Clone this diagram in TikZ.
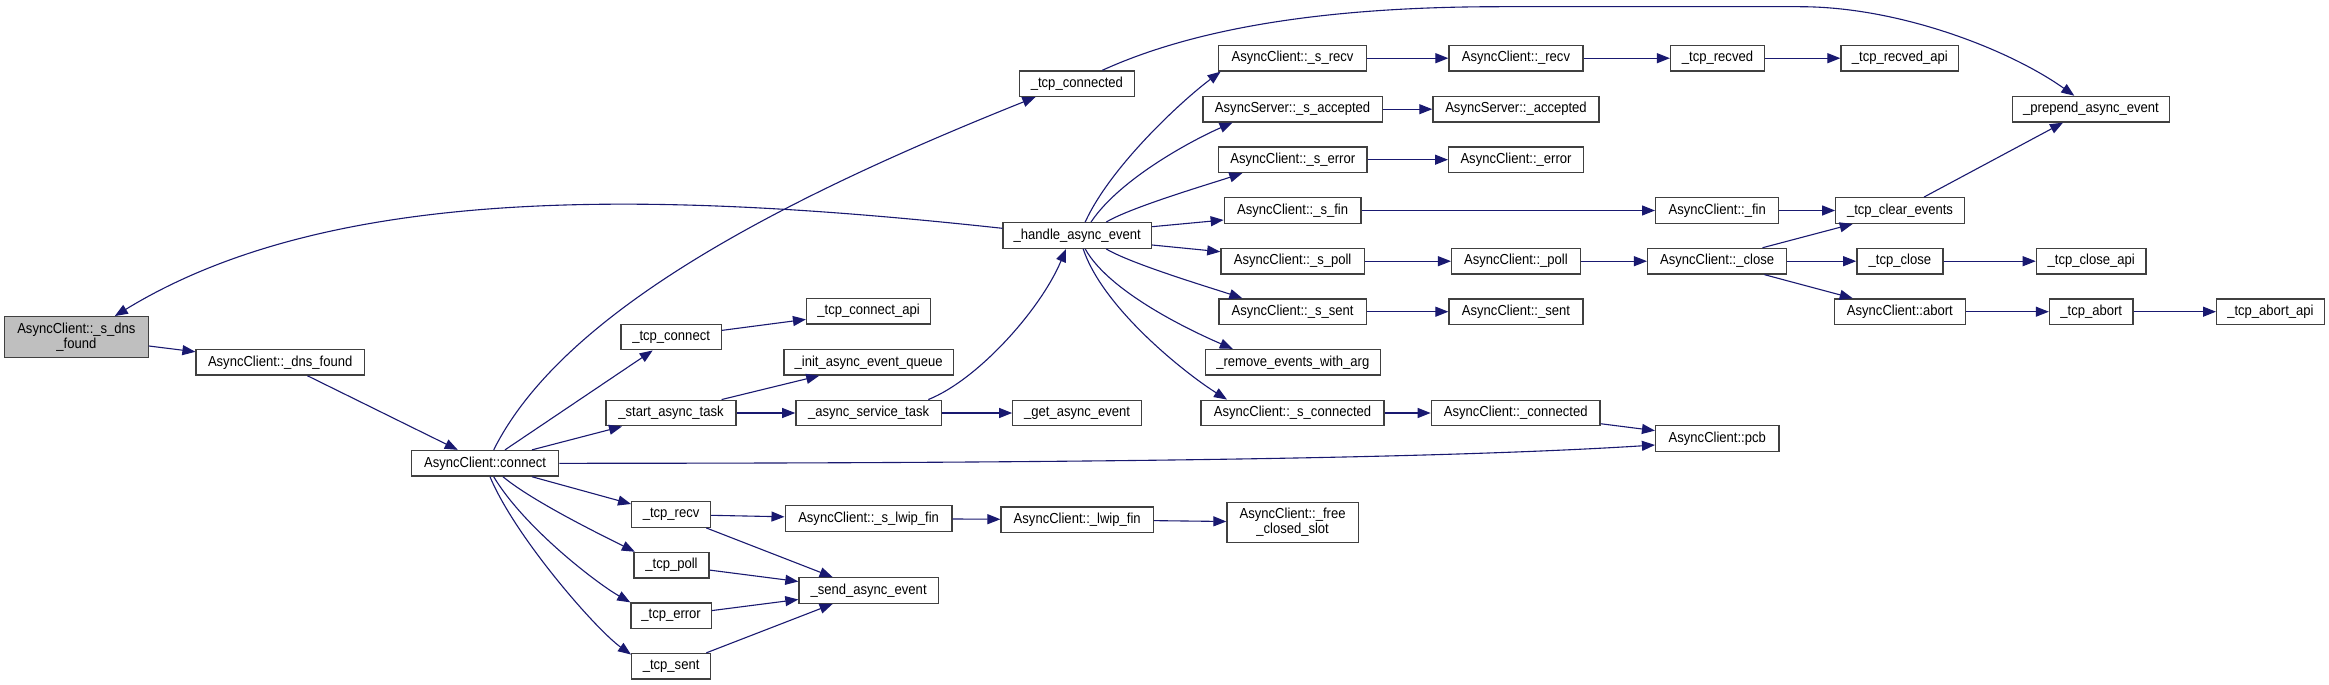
\documentclass[tikz,border=0pt]{standalone}
\usepackage{fontspec}
\setmainfont{Liberation Sans}[FakeStretch=0.9]
\usetikzlibrary{arrows.meta,calc}
\definecolor{navy}{HTML}{191970}
\definecolor{nodegray}{HTML}{BFBFBF}
\definecolor{bord}{HTML}{404040}
\tikzset{
  box/.style={draw=bord, line width=1.3pt, fill=white, minimum height=25.6pt, inner sep=0pt,
    font=\fontsize{14.5}{15}\selectfont, align=center},
  edge/.style={draw=navy, line width=1.1pt, -{Triangle[length=13pt,width=10pt]}}
}
\begin{document}
\begin{tikzpicture}[x=1pt,y=-1pt]
\fill[white] (0,0) rectangle (2329,685);
\useasboundingbox (0,0) rectangle (2329,685);
% nodes
\node[box, minimum width=143.5pt, minimum height=40.6pt, fill=nodegray] (sdns) at (76.4,337) {AsyncClient::\_s\_dns\\\_found};
\node[box, minimum width=168.3pt] (dnsf) at (280.2,362.3) {AsyncClient::\_dns\_found};
\node[box, minimum width=147.3pt] (conn) at (485,463.3) {AsyncClient::connect};
\node[box, minimum width=115.2pt] (tcpcd) at (1076.9,83.7) {\_tcp\_connected};
\node[box, minimum width=148.5pt] (handle) at (1077.2,235.5) {\_handle\_async\_event};
\node[box, minimum width=124pt] (tcpcapi) at (868.6,311.2) {\_tcp\_connect\_api};
\node[box, minimum width=100.2pt] (tcpc) at (671.1,337) {\_tcp\_connect};
\node[box, minimum width=169.1pt] (initq) at (868.6,362.3) {\_init\_async\_event\_queue};
\node[box, minimum width=130.1pt] (startt) at (671,413) {\_start\_async\_task};
\node[box, minimum width=145.5pt] (servt) at (868.6,413) {\_async\_service\_task};
\node[box, minimum width=128.6pt] (getev) at (1077.1,413) {\_get\_async\_event};
\node[box, minimum width=78.8pt] (tcprecv) at (671.1,514.5) {\_tcp\_recv};
\node[box, minimum width=166.9pt] (slwip) at (868.6,518.5) {AsyncClient::\_s\_lwip\_fin};
\node[box, minimum width=152.3pt] (lwip) at (1077.2,519.7) {AsyncClient::\_lwip\_fin};
\node[box, minimum width=75pt] (tcppoll) at (671.5,565.2) {\_tcp\_poll};
\node[box, minimum width=139.3pt] (sendev) at (868.6,590.5) {\_send\_async\_event};
\node[box, minimum width=80.4pt] (tcperr) at (671.1,615.8) {\_tcp\_error};
\node[box, minimum width=78.8pt] (tcpsent) at (671.1,666.3) {\_tcp\_sent};
\node[box, minimum width=147.7pt] (srecv) at (1292.5,58.2) {AsyncClient::\_s\_recv};
\node[box, minimum width=179.5pt] (sacc) at (1292.6,109.2) {AsyncServer::\_s\_accepted};
\node[box, minimum width=148.4pt] (serr) at (1292.8,159.7) {AsyncClient::\_s\_error};
\node[box, minimum width=136.6pt] (sfin) at (1292.6,210.5) {AsyncClient::\_s\_fin};
\node[box, minimum width=143.5pt] (spoll) at (1292.6,261.2) {AsyncClient::\_s\_poll};
\node[box, minimum width=147.3pt] (ssent) at (1292.6,311.7) {AsyncClient::\_s\_sent};
\node[box, minimum width=175.2pt] (remove) at (1292.8,362.3) {\_remove\_events\_with\_arg};
\node[box, minimum width=182.9pt] (sconn) at (1292.5,413) {AsyncClient::\_s\_connected};
\node[box, minimum width=131.2pt, minimum height=40pt] (freeslot) at (1292.6,522.3) {AsyncClient::\_free\\\_closed\_slot};
\node[box, minimum width=133.9pt] (recv) at (1516,58.2) {AsyncClient::\_recv};
\node[box, minimum width=166.1pt] (acc) at (1516,109.2) {AsyncServer::\_accepted};
\node[box, minimum width=134.7pt] (err) at (1516,159.7) {AsyncClient::\_error};
\node[box, minimum width=128.6pt] (poll) at (1515.9,261.2) {AsyncClient::\_poll};
\node[box, minimum width=134pt] (sent) at (1516,311.7) {AsyncClient::\_sent};
\node[box, minimum width=168.8pt] (connd) at (1515.7,413) {AsyncClient::\_connected};
\node[box, minimum width=93.9pt] (tcprecved) at (1717.5,58.2) {\_tcp\_recved};
\node[box, minimum width=123.1pt] (fin) at (1717.2,210.5) {AsyncClient::\_fin};
\node[box, minimum width=139pt] (closen) at (1717.1,261.2) {AsyncClient::\_close};
\node[box, minimum width=123.4pt] (pcb) at (1717.3,438.5) {AsyncClient::pcb};
\node[box, minimum width=117.6pt] (recvedapi) at (1899.8,58.2) {\_tcp\_recved\_api};
\node[box, minimum width=128.5pt] (clear) at (1900,210.5) {\_tcp\_clear\_events};
\node[box, minimum width=86.1pt] (tcpclose) at (1899.9,261.2) {\_tcp\_close};
\node[box, minimum width=131.1pt] (abort) at (1899.9,311.7) {AsyncClient::abort};
\node[box, minimum width=156.7pt] (prepend) at (2091,109.2) {\_prepend\_async\_event};
\node[box, minimum width=109.7pt] (closeapi) at (2091.2,261.2) {\_tcp\_close\_api};
\node[box, minimum width=83.5pt] (tcpabort) at (2091.2,311.7) {\_tcp\_abort};
\node[box, minimum width=107.5pt] (abortapi) at (2270.4,311.7) {\_tcp\_abort\_api};
% edges
\draw[edge] (sdns) -- (dnsf);
\draw[edge] (dnsf) -- (conn);
\draw[edge] ($(conn.north)+(8.7,0)$) .. controls +(70,-140) and +(-250,100) .. ($(tcpcd.south)+(-41.5,0)$);
\draw[edge] ($(conn.north)+(20,0)$) -- ($(tcpc.south)+(-18.4,0)$);
\draw[edge] ($(conn.north)+(47,0)$) -- ($(startt.south)+(-49,0)$);
\draw[edge] (conn.east) .. controls +(540,0) and +(-205,13) .. ($(pcb.west)+(0,6.5)$);
\draw[edge] ($(conn.south)+(47,0)$) -- ($(tcprecv.west)+(0,-10.5)$);
\draw[edge] ($(conn.south)+(18,0)$) .. controls +(30,25) and +(-30,-15) .. ($(tcppoll.north west)+(1.5,0)$);
\draw[edge] ($(conn.south)+(8.7,0)$) .. controls +(30,50) and +(-35,-20) .. (tcperr.north west);
\draw[edge] ($(conn.south)+(5,0)$) .. controls +(25,60) and +(-35,-25) .. ($(tcpsent.north west)+(0,1.7)$);
\draw[edge] (tcpc) -- (tcpcapi);
\draw[edge] ($(startt.north)+(50.6,0)$) -- ($(initq.south)+(-49.4,0)$);
\draw[edge] (startt) -- (servt);
\draw[edge] ($(servt.north)+(59.7,0)$) .. controls +(50,-20) and +(-25,60) .. ($(handle.south)+(-11.2,0)$);
\draw[edge] (servt) -- (getev);
\draw[edge] ($(handle.west)+(0,-7.2)$) .. controls +(-352.9,-38.3) and +(215.2,-131.7) .. ($(sdns.north)+(38.4,0)$);
\draw[edge] ($(handle.north)+(8,0)$) .. controls +(25,-55) and +(-40,30) .. ($(srecv.south west)+(2.6,0)$);
\draw[edge] ($(handle.north)+(13.8,0)$) .. controls +(30,-45) and +(-35,15) .. ($(sacc.south)+(-60,0)$);
\draw[edge] ($(handle.north)+(29,0)$) .. controls +(25,-15) and +(-30,10) .. ($(serr.south)+(-50.5,0)$);
\draw[edge] ($(handle.east)+(0,-8.8)$) -- ($(sfin.west)+(0,9.5)$);
\draw[edge] ($(handle.east)+(0,9.5)$) -- ($(spoll.west)+(0,-9.5)$);
\draw[edge] ($(handle.south)+(29,0)$) .. controls +(25,15) and +(-30,-10) .. ($(ssent.north)+(-50.3,0)$);
\draw[edge] ($(handle.south)+(8,0)$) .. controls +(25,45) and +(-35,-15) .. ($(remove.north)+(-60,0)$);
\draw[edge] ($(handle.south)+(6,0)$) .. controls +(20,60) and +(-40,-25) .. ($(sconn.north)+(-65.5,0)$);
\draw[edge] ($(tcpcd.north)+(25.5,0)$) .. controls (1180,35) and (1300,6.7) .. (1500,6.7) -- (1800,6.7) .. controls (1900,6.7) and (2010,50) .. ($(prepend.north)+(-16.7,0)$);
\draw[edge] (srecv) -- (recv);
\draw[edge] (recv) -- (tcprecved);
\draw[edge] (tcprecved) -- (recvedapi);
\draw[edge] (sacc) -- (acc);
\draw[edge] (serr) -- (err);
\draw[edge] (sfin) -- (fin);
\draw[edge] (fin) -- (clear);
\draw[edge] ($(clear.north)+(24,0)$) -- ($(prepend.south)+(-28,0)$);
\draw[edge] (spoll) -- (poll);
\draw[edge] (poll) -- (closen);
\draw[edge] ($(closen.north)+(45.4,0)$) -- ($(clear.south)+(-47.3,0)$);
\draw[edge] (closen) -- (tcpclose);
\draw[edge] (tcpclose) -- (closeapi);
\draw[edge] ($(closen.south)+(47.3,0)$) -- ($(abort.north)+(-47.2,0)$);
\draw[edge] (abort) -- (tcpabort);
\draw[edge] (tcpabort) -- (abortapi);
\draw[edge] (ssent) -- (sent);
\draw[edge] (sconn) -- (connd);
\draw[edge] (connd) -- (pcb);
\draw[edge] (tcprecv) -- (slwip);
\draw[edge] (slwip) -- (lwip);
\draw[edge] (lwip) -- (freeslot);
\draw[edge] ($(tcprecv.south)+(35.2,0)$) -- ($(sendev.north)+(-36,0)$);
\draw[edge] (tcppoll) -- (sendev);
\draw[edge] (tcperr) -- (sendev);
\draw[edge] ($(tcpsent.north)+(35.2,0)$) -- ($(sendev.south)+(-36,0)$);
\end{tikzpicture}
\end{document}
